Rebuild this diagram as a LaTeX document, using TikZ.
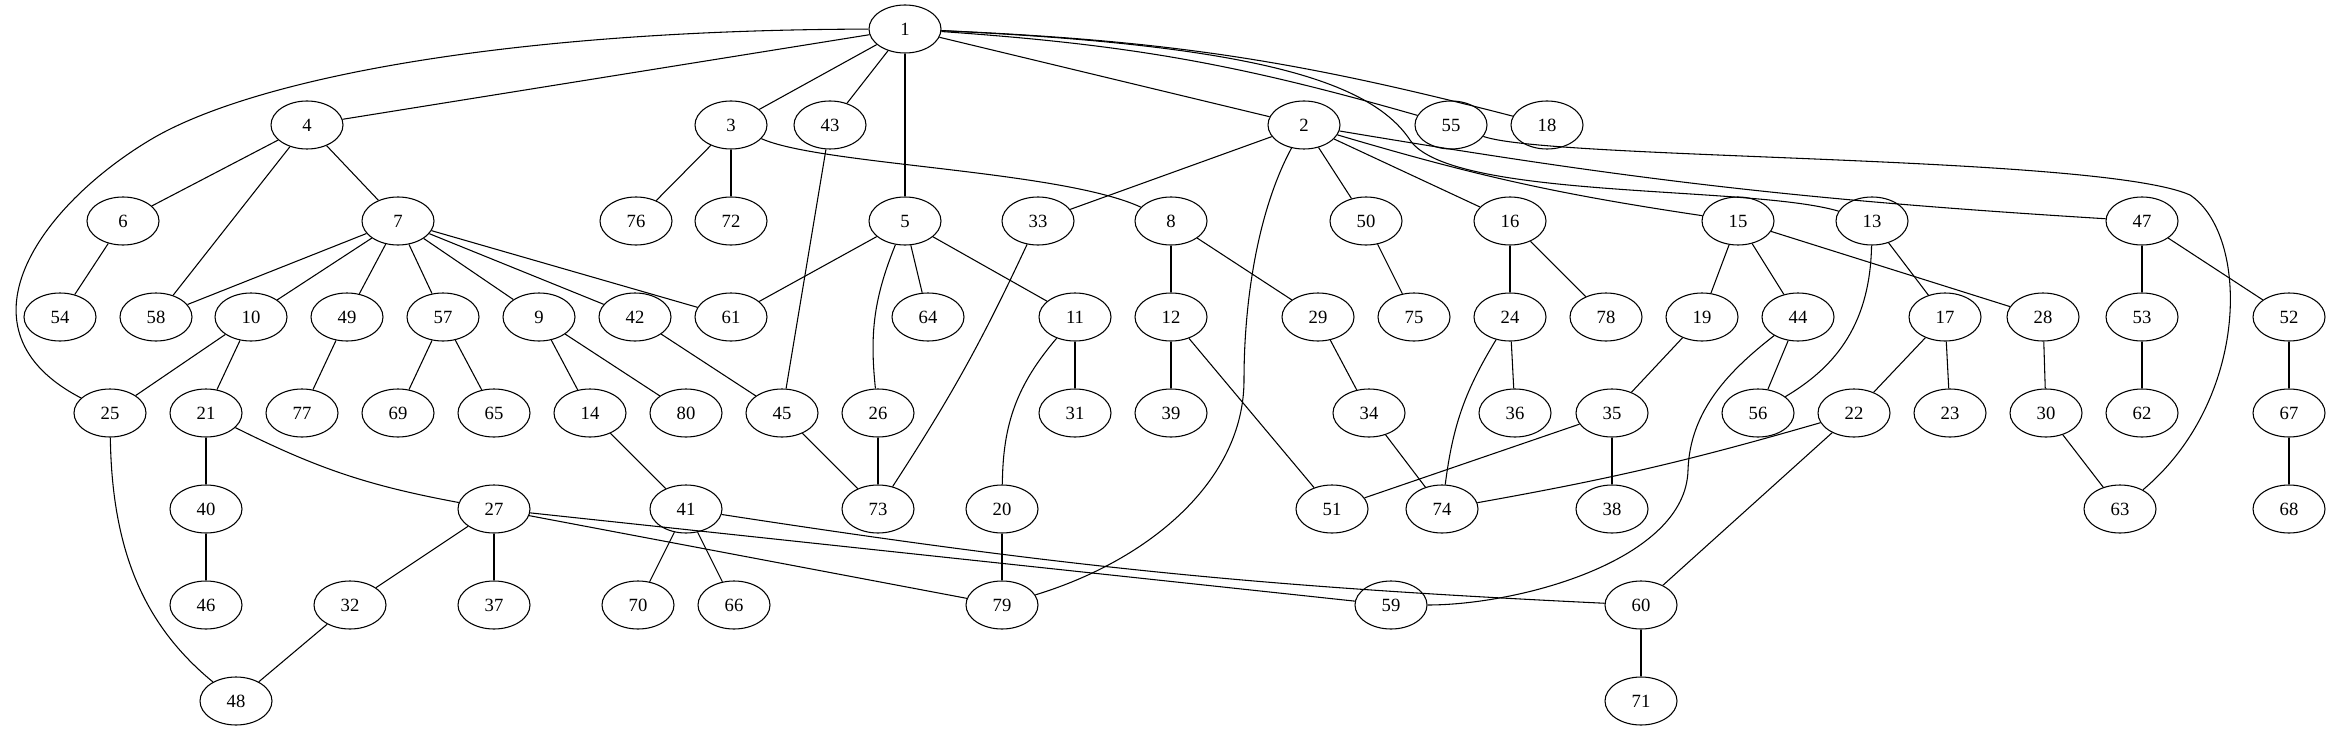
\documentclass[tikz,border=0pt]{standalone}
\usepackage{fontspec}
\setmainfont{Liberation Serif}
\usepackage{tikz}
\usetikzlibrary{shapes.geometric}

\begin{document}
\begin{tikzpicture}[
  x=0.75pt, y=0.75pt,
  vertex/.style={draw, ellipse, line width=0.8pt, minimum width=54pt, minimum height=36pt, inner sep=0pt, font=\fontsize{14}{16}\selectfont},
  link/.style={line width=0.8pt}
]
\useasboundingbox (0,0) rectangle (2330,-731);

\node[vertex] (n1) at (905,-29) {1};

\node[vertex] (n4) at (307,-125) {4};
\node[vertex] (n3) at (731,-125) {3};
\node[vertex] (n43) at (830,-125) {43};
\node[vertex] (n2) at (1304,-125) {2};
\node[vertex] (n55) at (1451,-125) {55};
\node[vertex] (n18) at (1547,-125) {18};

\node[vertex] (n6) at (123,-221) {6};
\node[vertex] (n7) at (398,-221) {7};
\node[vertex] (n76) at (636,-221) {76};
\node[vertex] (n72) at (731,-221) {72};
\node[vertex] (n5) at (905,-221) {5};
\node[vertex] (n33) at (1038,-221) {33};
\node[vertex] (n8) at (1171,-221) {8};
\node[vertex] (n50) at (1366,-221) {50};
\node[vertex] (n16) at (1510,-221) {16};
\node[vertex] (n15) at (1738,-221) {15};
\node[vertex] (n13) at (1872,-221) {13};
\node[vertex] (n47) at (2142,-221) {47};

\node[vertex] (n54) at (60,-317) {54};
\node[vertex] (n58) at (156,-317) {58};
\node[vertex] (n10) at (251,-317) {10};
\node[vertex] (n49) at (347,-317) {49};
\node[vertex] (n57) at (443,-317) {57};
\node[vertex] (n9) at (539,-317) {9};
\node[vertex] (n42) at (635,-317) {42};
\node[vertex] (n61) at (731,-317) {61};
\node[vertex] (n64) at (928,-317) {64};
\node[vertex] (n11) at (1075,-317) {11};
\node[vertex] (n12) at (1171,-317) {12};
\node[vertex] (n29) at (1318,-317) {29};
\node[vertex] (n75) at (1414,-317) {75};
\node[vertex] (n24) at (1510,-317) {24};
\node[vertex] (n78) at (1606,-317) {78};
\node[vertex] (n19) at (1702,-317) {19};
\node[vertex] (n44) at (1798,-317) {44};
\node[vertex] (n17) at (1945,-317) {17};
\node[vertex] (n28) at (2043,-317) {28};
\node[vertex] (n53) at (2142,-317) {53};
\node[vertex] (n52) at (2289,-317) {52};

\node[vertex] (n25) at (110,-413) {25};
\node[vertex] (n21) at (206,-413) {21};
\node[vertex] (n77) at (302,-413) {77};
\node[vertex] (n69) at (398,-413) {69};
\node[vertex] (n65) at (494,-413) {65};
\node[vertex] (n14) at (590,-413) {14};
\node[vertex] (n80) at (686,-413) {80};
\node[vertex] (n45) at (782,-413) {45};
\node[vertex] (n26) at (878,-413) {26};
\node[vertex] (n31) at (1075,-413) {31};
\node[vertex] (n39) at (1171,-413) {39};
\node[vertex] (n34) at (1369,-413) {34};
\node[vertex] (n36) at (1515,-413) {36};
\node[vertex] (n35) at (1612,-413) {35};
\node[vertex] (n56) at (1758,-413) {56};
\node[vertex] (n22) at (1854,-413) {22};
\node[vertex] (n23) at (1950,-413) {23};
\node[vertex] (n30) at (2046,-413) {30};
\node[vertex] (n62) at (2142,-413) {62};
\node[vertex] (n67) at (2289,-413) {67};

\node[vertex] (n40) at (206,-509) {40};
\node[vertex] (n27) at (494,-509) {27};
\node[vertex] (n41) at (686,-509) {41};
\node[vertex] (n73) at (878,-509) {73};
\node[vertex] (n20) at (1002,-509) {20};
\node[vertex] (n51) at (1332,-509) {51};
\node[vertex] (n74) at (1442,-509) {74};
\node[vertex] (n38) at (1612,-509) {38};
\node[vertex] (n63) at (2120,-509) {63};
\node[vertex] (n68) at (2289,-509) {68};

\node[vertex] (n46) at (206,-605) {46};
\node[vertex] (n32) at (350,-605) {32};
\node[vertex] (n37) at (494,-605) {37};
\node[vertex] (n70) at (638,-605) {70};
\node[vertex] (n66) at (734,-605) {66};
\node[vertex] (n79) at (1002,-605) {79};
\node[vertex] (n59) at (1391,-605) {59};
\node[vertex] (n60) at (1641,-605) {60};

\node[vertex] (n48) at (236,-701) {48};
\node[vertex] (n71) at (1641,-701) {71};

\draw[link] (n1) -- (n4);
\draw[link] (n1) -- (n3);
\draw[link] (n1) -- (n43);
\draw[link] (n1) -- (n5);
\draw[link] (n1) -- (n2);
\draw[link] (n1) to[bend left=6] (n55);
\draw[link] (n1) to[bend left=6] (n18);
\draw[link] (n1) .. controls (500,-30) and (250,-80) .. (150,-140) .. controls (40,-206) and (-50,-330) .. (n25);
\draw[link] (n1) .. controls (1250,-45) and (1370,-80) .. (1410,-140) .. controls (1450,-200) and (1750,-185) .. (n13);
\draw[link] (n4) -- (n6);
\draw[link] (n4) -- (n58);
\draw[link] (n4) -- (n7);
\draw[link] (n3) -- (n76);
\draw[link] (n3) -- (n72);
\draw[link] (n3) .. controls (820,-165) and (1060,-170) .. (n8);
\draw[link] (n43) -- (n45);
\draw[link] (n2) -- (n33);
\draw[link] (n2) -- (n50);
\draw[link] (n2) -- (n16);
\draw[link] (n2) to[bend right=4] (n15);
\draw[link] (n2) to[bend right=3] (n47);
\draw[link] (n2) .. controls (1258,-210) and (1244,-300) .. (1244,-380) .. controls (1244,-480) and (1150,-560) .. (n79);
\draw[link] (n55) .. controls (1550,-160) and (2100,-155) .. (2190,-195) .. controls (2250,-235) and (2250,-400) .. (n63);
\draw[link] (n6) -- (n54);
\draw[link] (n7) -- (n58);
\draw[link] (n7) -- (n10);
\draw[link] (n7) -- (n49);
\draw[link] (n7) -- (n57);
\draw[link] (n7) -- (n9);
\draw[link] (n7) -- (n42);
\draw[link] (n7) -- (n61);
\draw[link] (n5) -- (n61);
\draw[link] (n5) -- (n64);
\draw[link] (n5) -- (n11);
\draw[link] (n5) to[bend right=14] (n26);
\draw[link] (n33) to[bend left=4] (n73);
\draw[link] (n8) -- (n12);
\draw[link] (n8) -- (n29);
\draw[link] (n50) -- (n75);
\draw[link] (n16) -- (n24);
\draw[link] (n16) -- (n78);
\draw[link] (n15) -- (n19);
\draw[link] (n15) -- (n44);
\draw[link] (n15) -- (n28);
\draw[link] (n13) -- (n17);
\draw[link] (n13) .. controls (1870,-330) and (1830,-370) .. (n56);
\draw[link] (n47) -- (n53);
\draw[link] (n47) -- (n52);
\draw[link] (n10) -- (n25);
\draw[link] (n10) -- (n21);
\draw[link] (n49) -- (n77);
\draw[link] (n57) -- (n69);
\draw[link] (n57) -- (n65);
\draw[link] (n9) -- (n14);
\draw[link] (n9) -- (n80);
\draw[link] (n42) -- (n45);
\draw[link] (n11) -- (n31);
\draw[link] (n11) to[bend right=20] (n20);
\draw[link] (n12) -- (n39);
\draw[link] (n12) -- (n51);
\draw[link] (n29) -- (n34);
\draw[link] (n24) -- (n36);
\draw[link] (n24) to[bend right=12] (n74);
\draw[link] (n19) -- (n35);
\draw[link] (n44) -- (n56);
\draw[link] (n44) .. controls (1730,-370) and (1690,-410) .. (1688,-470) .. controls (1686,-560) and (1520,-605) .. (n59);
\draw[link] (n17) -- (n22);
\draw[link] (n17) -- (n23);
\draw[link] (n28) -- (n30);
\draw[link] (n53) -- (n62);
\draw[link] (n52) -- (n67);
\draw[link] (n25) .. controls (112,-560) and (150,-630) .. (n48);
\draw[link] (n21) -- (n40);
\draw[link] (n21) to[bend right=8] (n27);
\draw[link] (n14) -- (n41);
\draw[link] (n45) -- (n73);
\draw[link] (n26) -- (n73);
\draw[link] (n34) -- (n74);
\draw[link] (n35) -- (n51);
\draw[link] (n35) -- (n38);
\draw[link] (n22) to[bend left=3] (n74);
\draw[link] (n22) -- (n60);
\draw[link] (n30) -- (n63);
\draw[link] (n67) -- (n68);
\draw[link] (n40) -- (n46);
\draw[link] (n27) -- (n32);
\draw[link] (n27) -- (n37);
\draw[link] (n27) -- (n79);
\draw[link] (n27) -- (n59);
\draw[link] (n41) -- (n70);
\draw[link] (n41) -- (n66);
\draw[link] (n41) to[bend right=3] (n60);
\draw[link] (n20) -- (n79);
\draw[link] (n32) -- (n48);
\draw[link] (n60) -- (n71);
\end{tikzpicture}
\end{document}
